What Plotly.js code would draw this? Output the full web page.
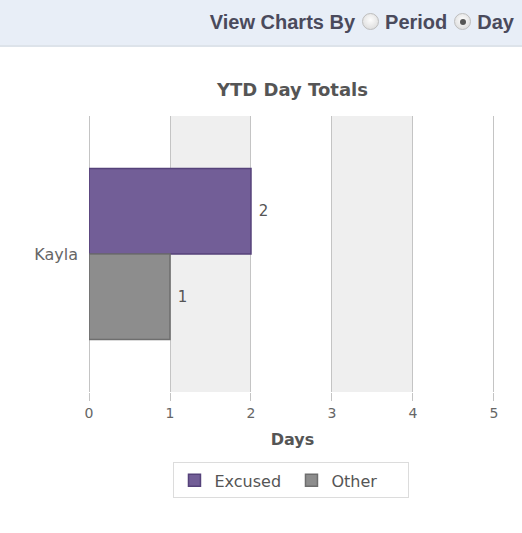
<!DOCTYPE html>
<html><head><meta charset="utf-8">
<script src="https://cdn.plot.ly/plotly-3.0.1.min.js"></script>
<style>
html,body{margin:0;padding:0;background:#fff;width:522px;height:533px;overflow:hidden}
#hdr{position:absolute;left:0;top:0;width:522px;height:45px;background:#e8eef7;border-bottom:2px solid #dde3ea;
 font-family:"Liberation Sans",Arial,sans-serif;font-weight:bold;font-size:20px;color:#4a4a5c;z-index:2}
#hdr .in{position:absolute;right:8px;top:11px;white-space:nowrap}
.rb{display:inline-block;width:15px;height:15px;border-radius:50%;border:1px solid #bdbdbd;background:radial-gradient(circle at 50% 40%,#fdfdfd,#d6d6d6);vertical-align:-1px;margin:0 6px 0 7px;position:relative}
.rb.on::after{content:"";position:absolute;left:4.5px;top:4.5px;width:6px;height:6px;border-radius:50%;background:#555}
#chart{position:absolute;left:0;top:0;width:522px;height:533px}
</style></head><body>
<div id="chart"></div>
<div id="hdr"><div class="in">View Charts By<span class="rb"></span>Period<span class="rb on"></span>Day</div></div>
<script>
const categories = ["Kayla"];
const seriesNames = ["Excused", "Other"];
const excused = [2];
const other = [1];
const xTicks = [0, 1, 2, 3, 4, 5];
const bands = [[1, 2], [3, 4]];

const colors = {Excused: "#725e97", Other: "#8d8d8d"};
const lines = {Excused: "#55427a", Other: "#6e6e6e"};
const vals = {Excused: excused, Other: other};
const F = "DejaVu Sans, Verdana, sans-serif";

const traces = seriesNames.map(n => ({
  type: "bar", orientation: "h", name: n,
  y: categories, x: vals[n],
  texttemplate: "\u00a0%{x}", textposition: "outside",
  textfont: {family: F, size: 15, color: "#555"},
  marker: {color: colors[n], line: {color: lines[n], width: 1.5}},
  cliponaxis: false, hoverinfo: "x+name"
}));

const shapes = bands.map(b => ({
  type: "rect", xref: "x", yref: "paper", x0: b[0], x1: b[1], y0: 0, y1: 1,
  fillcolor: "#efefef", line: {width: 0}, layer: "below"
}));

const layout = {
  width: 522, height: 533,
  margin: {l: 89, r: 26, t: 116, b: 141},
  paper_bgcolor: "#fff", plot_bgcolor: "#fff",
  font: {family: F, size: 15, color: "#666"},
  title: {text: "<b>YTD Day Totals</b>", x: 0.5, xref: "paper", xanchor: "center", y: 1, yref: "paper", yanchor: "bottom", pad: {b: 20},
          font: {family: F, size: 18, color: "#555"}},
  barmode: "group", bargap: 0.38, bargroupgap: 0,
  xaxis: {range: [0, 5.025], tickvals: xTicks, showgrid: true, gridcolor: "#c4c4c4", gridwidth: 1,
          zeroline: true, zerolinecolor: "#c4c4c4", zerolinewidth: 1, showline: false,
          ticks: "outside", ticklen: 8, tickcolor: "#c4c4c4",
          tickfont: {size: 14, color: "#666"},
          title: {text: "<b>Days</b>", font: {size: 16, color: "#555"}, standoff: 14}, fixedrange: true},
  yaxis: {autorange: "reversed", showgrid: false, zeroline: false, showline: false, ticks: "",
          ticklabelstandoff: 10, tickfont: {size: 16, color: "#666"}, fixedrange: true},
  shapes: shapes,
  showlegend: true,
  legend: {orientation: "h", x: 0.4975, xanchor: "center", y: -0.255, yanchor: "top",
           bgcolor: "#fff", bordercolor: "#dcdcdc", borderwidth: 1, entrywidth: 72, entrywidthmode: "pixels",
           font: {size: 16, color: "#555"}}
};
Plotly.newPlot("chart", traces, layout, {displayModeBar: false, staticPlot: true});
</script></body></html>
